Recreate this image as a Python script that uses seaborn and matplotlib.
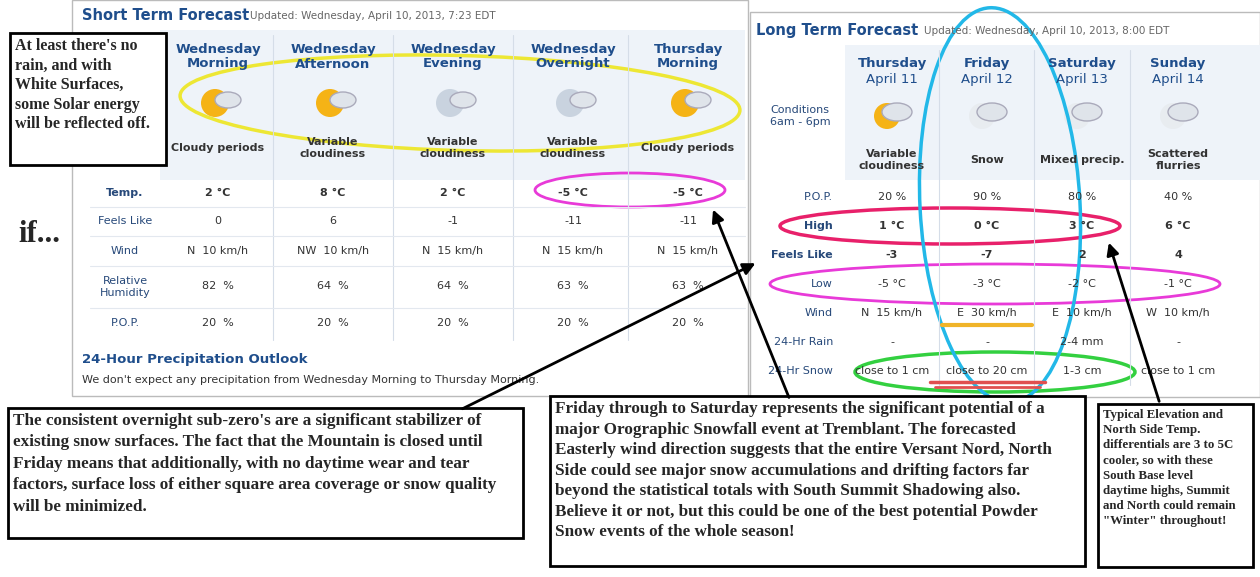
import matplotlib
matplotlib.use("Agg")
import matplotlib.pyplot as plt
import seaborn as sns
from matplotlib.patches import Rectangle, Ellipse, Circle

# Short term forecast data
st_periods = ["Wednesday\nMorning", "Wednesday\nAfternoon", "Wednesday\nEvening",
              "Wednesday\nOvernight", "Thursday\nMorning"]
st_cond = ["Cloudy periods", "Variable\ncloudiness", "Variable\ncloudiness",
           "Variable\ncloudiness", "Cloudy periods"]
st_temp = [2, 8, 2, -5, -5]
st_feels = [0, 6, -1, -11, -11]
st_wind = ["N  10 km/h", "NW  10 km/h", "N  15 km/h", "N  15 km/h", "N  15 km/h"]
st_rh = [82, 64, 64, 63, 63]
st_pop = [20, 20, 20, 20, 20]

# Long term forecast data
lt_days = ["Thursday", "Friday", "Saturday", "Sunday"]
lt_dates = ["April 11", "April 12", "April 13", "April 14"]
lt_cond = ["Variable\ncloudiness", "Snow", "Mixed precip.", "Scattered\nflurries"]
lt_pop = [20, 90, 80, 40]
lt_high = [1, 0, 3, 6]
lt_feels = [-3, -7, 2, 4]
lt_low = [-5, -3, -2, -1]
lt_wind = ["N  15 km/h", "E  30 km/h", "E  10 km/h", "W  10 km/h"]
lt_rain = ["-", "-", "2-4 mm", "-"]
lt_snow = ["close to 1 cm", "close to 20 cm", "1-3 cm", "close to 1 cm"]

sns.set_theme(style="white")
fig = plt.figure(figsize=(12.6, 5.77), dpi=100)
ax = fig.add_axes([0, 0, 1, 1])
ax.set_xlim(0, 1260)
ax.set_ylim(577, 0)
ax.axis("off")

blue = "#1f4e8c"
link = "#27497a"
txt = "#333333"
fs = 8

# ---- Short term panel
ax.add_patch(Rectangle((72, 0), 676, 396, fc="white", ec="#bbbbbb", lw=1))
ax.add_patch(Rectangle((160, 30), 585, 150, fc="#eef3f9", ec="none"))
ax.text(82, 15, "Short Term Forecast", color=blue, fontsize=10.5, weight="bold", va="center")
ax.text(250, 16, "Updated: Wednesday, April 10, 2013, 7:23 EDT", color="#666", fontsize=7.5, va="center")
st_x = [218, 333, 453, 573, 688]
for i, x in enumerate(st_x):
    if i:
        ax.plot([x - 60, x - 60], [35, 340], color="#d5dde8", lw=0.8)
    ax.text(x, 57, st_periods[i], ha="center", va="center", fontsize=9.5, weight="bold",
            color=blue, linespacing=1.1)
    night = "Evening" in st_periods[i] or "Overnight" in st_periods[i]
    ax.add_patch(Circle((x - 3, 103), 14, fc="#c9d3df" if night else "#f5b316", ec="none"))
    ax.add_patch(Ellipse((x + 10, 100), 26, 16, fc="#dfe4ea", ec="#aab"))
    ax.text(x, 148, st_cond[i], ha="center", va="center", fontsize=fs, weight="bold", color=txt)
    ax.text(x, 193, f"{st_temp[i]} °C", ha="center", va="center", fontsize=fs, weight="bold", color=txt)
    ax.text(x, 221, str(st_feels[i]), ha="center", va="center", fontsize=fs, color=txt)
    ax.text(x, 251, st_wind[i], ha="center", va="center", fontsize=fs, color=txt)
    ax.text(x, 286, f"{st_rh[i]}  %", ha="center", va="center", fontsize=fs, color=txt)
    ax.text(x, 323, f"{st_pop[i]}  %", ha="center", va="center", fontsize=fs, color=txt)
for lab, y in [("Temp.", 193), ("Feels Like", 221), ("Wind", 251), ("Relative\nHumidity", 287), ("P.O.P.", 323)]:
    ax.text(125, y, lab, ha="center", va="center", fontsize=fs, color=link,
            weight="bold" if lab == "Temp." else "normal")
for y in [207, 236, 266, 308]:
    ax.plot([90, 745], [y, y], color="#e3e8ef", lw=0.8)
ax.text(82, 360, "24-Hour Precipitation Outlook", color=blue, fontsize=9.5, weight="bold", va="center")
ax.text(82, 380, "We don't expect any precipitation from Wednesday Morning to Thursday Morning.",
        color=txt, fontsize=8, va="center")

# ---- Long term panel
ax.add_patch(Rectangle((750, 12), 510, 385, fc="white", ec="#bbbbbb", lw=1))
ax.add_patch(Rectangle((845, 45), 415, 135, fc="#eef3f9", ec="none"))
ax.text(756, 30, "Long Term Forecast", color=blue, fontsize=10.5, weight="bold", va="center")
ax.text(924, 31, "Updated: Wednesday, April 10, 2013, 8:00 EDT", color="#666", fontsize=7.5, va="center")
lt_x = [892, 987, 1082, 1178]
for i, x in enumerate(lt_x):
    if i:
        ax.plot([x - 48, x - 48], [50, 385], color="#d5dde8", lw=0.8)
    ax.text(x, 63, lt_days[i], ha="center", va="center", fontsize=9.5, weight="bold", color=blue)
    ax.text(x, 80, lt_dates[i], ha="center", va="center", fontsize=9.5, color=blue)
    ax.add_patch(Circle((x - 5, 116), 13, fc="#f5b316" if i == 0 else "#e8ecf0", ec="none"))
    ax.add_patch(Ellipse((x + 5, 112), 30, 18, fc="#dfe4ea", ec="#aab"))
    ax.text(x, 160, lt_cond[i], ha="center", va="center", fontsize=fs, weight="bold", color=txt)
    ax.text(x, 197, f"{lt_pop[i]} %", ha="center", va="center", fontsize=fs, color=txt)
    ax.text(x, 226, f"{lt_high[i]} °C", ha="center", va="center", fontsize=fs, weight="bold", color=txt)
    ax.text(x, 255, str(lt_feels[i]), ha="center", va="center", fontsize=fs, weight="bold", color=txt)
    ax.text(x, 284, f"{lt_low[i]} °C", ha="center", va="center", fontsize=fs, color=txt)
    ax.text(x, 313, lt_wind[i], ha="center", va="center", fontsize=fs, color=txt)
    ax.text(x, 342, lt_rain[i], ha="center", va="center", fontsize=fs, color=txt)
    ax.text(x, 371, lt_snow[i], ha="center", va="center", fontsize=fs, color=txt)
ax.text(800, 116, "Conditions\n6am - 6pm", ha="center", va="center", fontsize=fs, color=link)
for lab, y in [("P.O.P.", 197), ("High", 226), ("Feels Like", 255), ("Low", 284),
               ("Wind", 313), ("24-Hr Rain", 342), ("24-Hr Snow", 371)]:
    ax.text(833, y, lab, ha="right", va="center", fontsize=fs, color=link,
            weight="bold" if lab in ("High", "Feels Like") else "normal")
ax.plot([942, 1032], [325, 325], color="#f0b429", lw=3)
ax.plot([930, 1045], [382, 382], color="#e05050", lw=2.5)
ax.plot([935, 1040], [387, 387], color="#e05050", lw=2)

# ---- Highlight ellipses
ax.add_patch(Ellipse((460, 103), 560, 95, fc="none", ec="#ede734", lw=2.5, angle=1.5))
ax.add_patch(Ellipse((630, 190), 190, 34, fc="none", ec="#e83ad8", lw=2))
ax.add_patch(Ellipse((950, 226), 340, 36, fc="none", ec="#e8206a", lw=2.5))
ax.add_patch(Ellipse((995, 284), 450, 40, fc="none", ec="#e83ad8", lw=2))
ax.add_patch(Ellipse((995, 372), 280, 40, fc="none", ec="#33d040", lw=2.5))
ax.add_patch(Ellipse((1000, 205), 160, 395, fc="none", ec="#22b8e8", lw=2.5, angle=-3))

# ---- Annotation boxes
serif = "Liberation Serif"
def note(x, y, w, h, s, size=10.5, ls=1.3):
    ax.add_patch(Rectangle((x, y), w, h, fc="white", ec="black", lw=2, zorder=5))
    ax.text(x + 5, y + 5, s, ha="left", va="top", fontsize=size, weight="bold",
            family=serif, zorder=6, linespacing=ls)

note(10, 33, 156, 132, "At least there's no\nrain, and with\nWhite Surfaces,\nsome Solar energy\nwill be reflected off.", 11.5)
note(8, 408, 515, 130, "The consistent overnight sub-zero's are a significant stabilizer of\n"
     "existing snow surfaces. The fact that the Mountain is closed until\n"
     "Friday means that additionally, with no daytime wear and tear\n"
     "factors, surface loss of either square area coverage or snow quality\n"
     "will be minimized.", 12.3, 1.45)
note(550, 396, 535, 170, "Friday through to Saturday represents the significant potential of a\n"
     "major Orographic Snowfall event at Tremblant. The forecasted\n"
     "Easterly wind direction suggests that the entire Versant Nord, North\n"
     "Side could see major snow accumulations and drifting factors far\n"
     "beyond the statistical totals with South Summit Shadowing also.\n"
     "Believe it or not, but this could be one of the best potential Powder\n"
     "Snow events of the whole season!", 12.3, 1.38)
note(1098, 404, 155, 163, "Typical Elevation and\nNorth Side Temp.\ndifferentials are 3 to 5C\n"
     "cooler, so with these\nSouth Base level\ndaytime highs, Summit\nand North could remain\n\"Winter\" throughout!", 9.3, 1.35)
ax.text(18, 235, "if...", fontsize=22, weight="bold", family=serif, va="center")

# ---- Arrows
arr = dict(arrowstyle="-|>", color="black", lw=2, mutation_scale=18)
ax.annotate("", xy=(758, 262), xytext=(460, 410), arrowprops=arr, zorder=7)
ax.annotate("", xy=(712, 207), xytext=(790, 400), arrowprops=arr, zorder=7)
ax.annotate("", xy=(1108, 240), xytext=(1160, 404), arrowprops=arr, zorder=7)

fig.savefig("out.png", dpi=100)
